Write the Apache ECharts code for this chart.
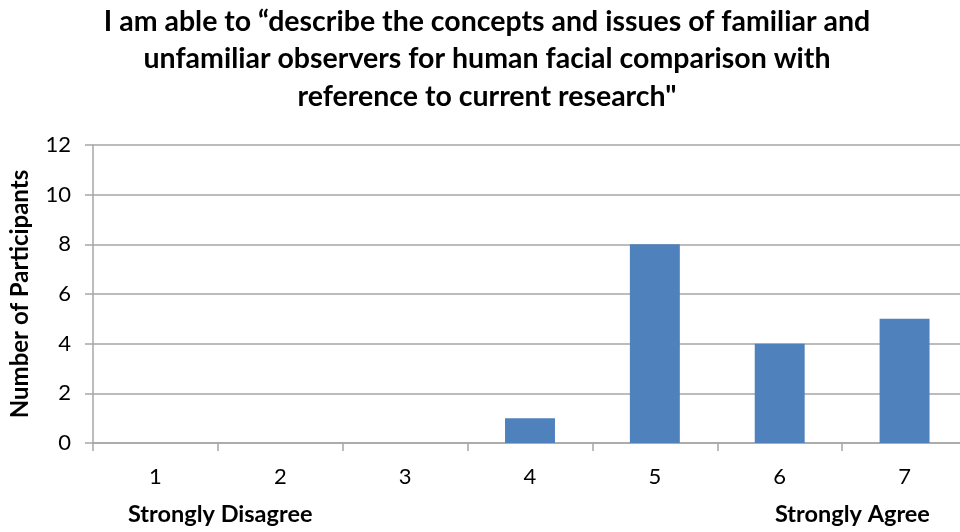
<!DOCTYPE html>
<html>
<head>
<meta charset="utf-8">
<script src="https://cdn.jsdelivr.net/npm/echarts@6/dist/echarts.min.js"></script>
<style>
  html, body { margin: 0; padding: 0; background: #ffffff; }
  #chart { width: 960px; height: 532px; }
</style>
</head>
<body>
<div id="chart"></div>
<script>
// Likert scale points (1 = Strongly Disagree ... 7 = Strongly Agree)
const categories = ['1', '2', '3', '4', '5', '6', '7'];
// Number of participants who chose each point
const participants = [0, 0, 0, 1, 8, 4, 5];
// Value axis range
const yMin = 0;
const yMax = 12;
const yStep = 2;

const titleLines = [
  'I am able to \u201cdescribe the concepts and issues of familiar and',
  'unfamiliar observers for human facial comparison with',
  'reference to current research"'
];

const FONT = 'Lato, "Open Sans", sans-serif';
const AXIS_GRAY = '#a6a6a6';

const chart = echarts.init(document.getElementById('chart'), null, { renderer: 'canvas' });

chart.setOption({
  backgroundColor: '#ffffff',
  animation: false,
  title: {
    text: titleLines.join('\n'),
    left: 482,
    top: -2,
    textAlign: 'center',
    textStyle: {
      fontFamily: FONT,
      fontWeight: 'bold',
      fontSize: 28.5,
      lineHeight: 37.5,
      color: '#000000'
    }
  },
  // plot area runs slightly past the right edge of the canvas
  grid: {
    left: 93,
    width: 874,
    top: 145,
    bottom: 89,
    containLabel: false,
    outerBoundsMode: 'none'
  },
  xAxis: {
    type: 'category',
    data: categories,
    boundaryGap: true,
    axisLine: { show: true, lineStyle: { color: AXIS_GRAY, width: 1.5 } },
    axisTick: { show: true, length: 8, alignWithLabel: false, lineStyle: { color: AXIS_GRAY, width: 1.5 } },
    axisLabel: {
      margin: 23,
      fontFamily: FONT,
      fontSize: 22,
      color: '#000000'
    },
    splitLine: { show: false }
  },
  yAxis: {
    type: 'value',
    min: yMin,
    max: yMax,
    interval: yStep,
    name: 'Number of Participants',
    nameLocation: 'middle',
    nameGap: 61,
    nameRotate: 90,
    nameTextStyle: {
      fontFamily: FONT,
      fontWeight: 'bold',
      fontSize: 24,
      color: '#000000'
    },
    axisLine: { show: true, lineStyle: { color: AXIS_GRAY, width: 1.5 } },
    axisTick: { show: true, length: 8, lineStyle: { color: AXIS_GRAY, width: 1.5 } },
    axisLabel: {
      margin: 22,
      fontFamily: FONT,
      fontSize: 22,
      color: '#000000'
    },
    splitLine: { show: true, lineStyle: { color: AXIS_GRAY, width: 1.5 } }
  },
  series: [{
    type: 'bar',
    data: participants,
    barWidth: '40%',
    itemStyle: { color: '#4f81bd' },
    silent: true
  }],
  graphic: [
    {
      type: 'text',
      left: 128,
      top: 502,
      style: {
        text: 'Strongly Disagree',
        font: 'bold 23.5px ' + FONT,
        fill: '#000000'
      }
    },
    {
      type: 'text',
      left: 775,
      top: 502,
      style: {
        text: 'Strongly Agree',
        font: 'bold 23.5px ' + FONT,
        fill: '#000000'
      }
    }
  ]
});
</script>
</body>
</html>
